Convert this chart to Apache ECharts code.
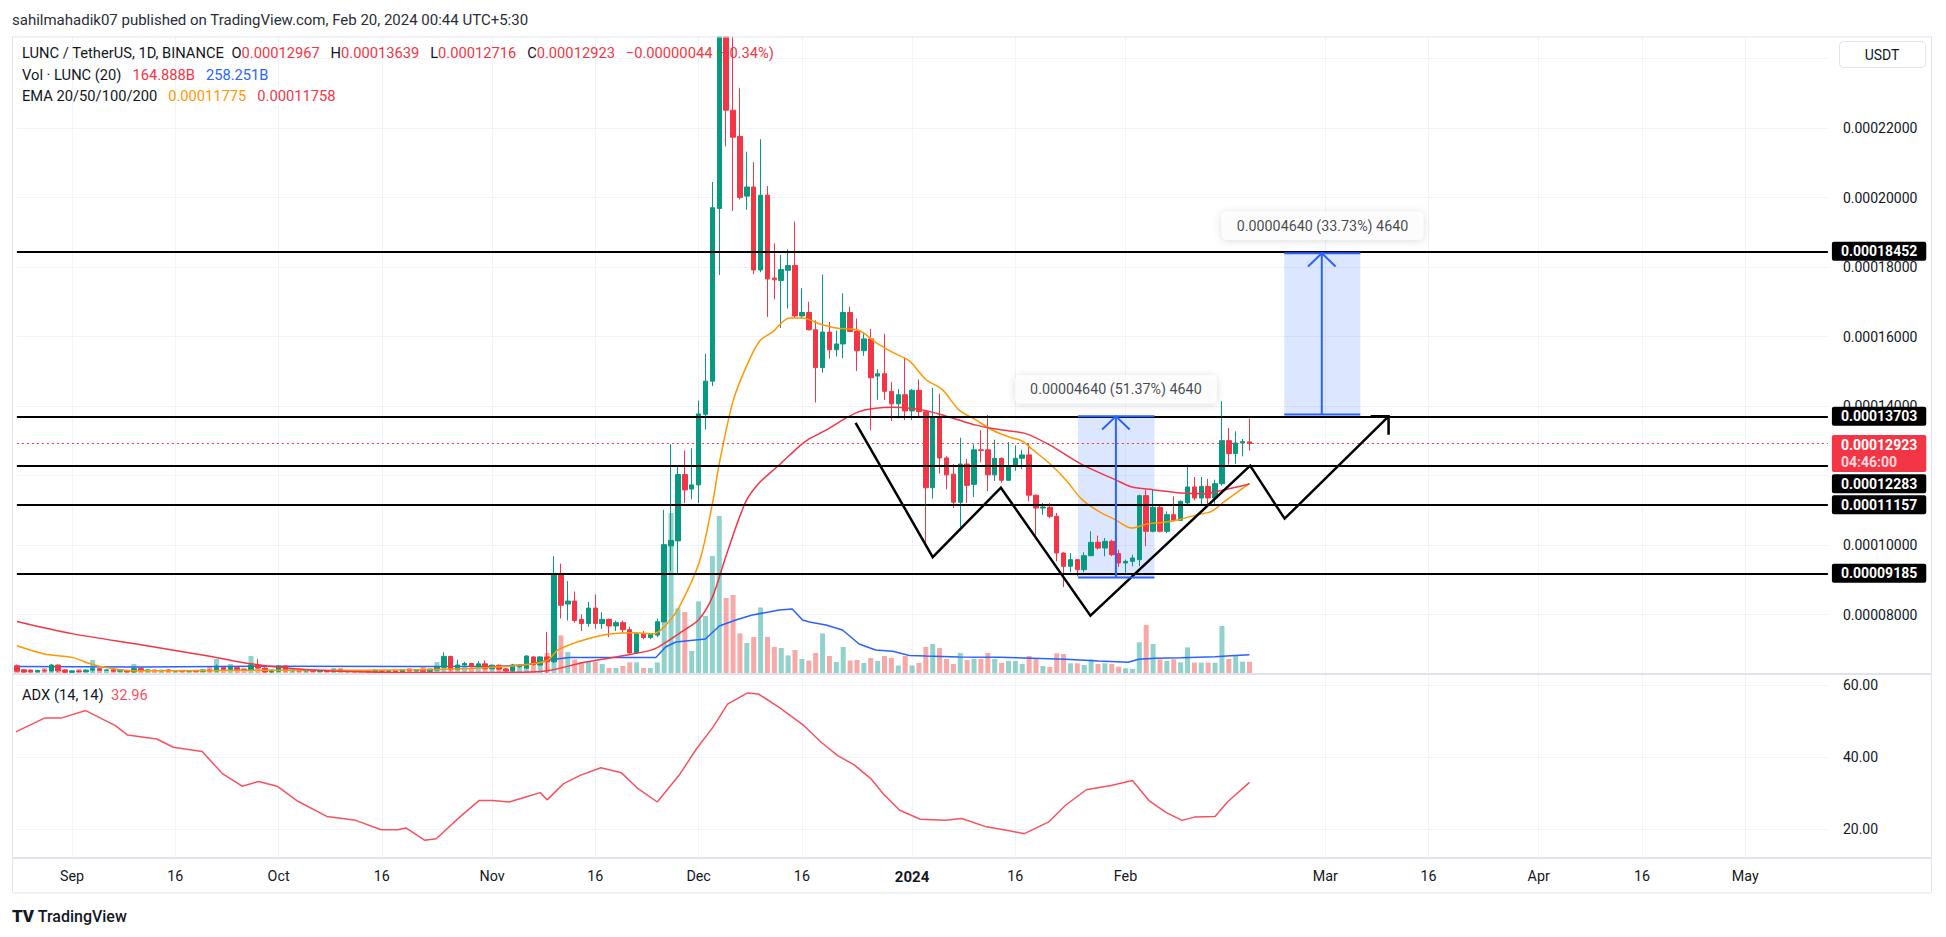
<!DOCTYPE html>
<html><head><meta charset="utf-8">
<script src="https://cdn.jsdelivr.net/npm/echarts@6/dist/echarts.min.js"></script>
<style>html,body{margin:0;padding:0;background:#fff}#c{width:1946px;height:937px}</style>
</head><body><div id="c"></div>
<script>
// ================= DATA (prices in units of 1e-8 USDT, day 0 = 2023-09-01) =================
const firstDayUTC = [2023, 7, 24];   // first category = Aug 24 2023 (day -8)
const categoryCount = 264;           // through May 13 2024
const tickDates = ['2023-09-01','2023-09-16','2023-10-01','2023-10-16','2023-11-01','2023-11-16','2023-12-01','2023-12-16','2024-01-01','2024-01-16','2024-02-01','2024-03-01','2024-03-16','2024-04-01','2024-04-16','2024-05-01'];
const tickLabels = ['Sep','16','Oct','16','Nov','16','Dec','16','2024','16','Feb','Mar','16','Apr','16','May'];
const priceTicks = {min: 6000, max: 24000, step: 2000};

// [open, high, low, close] daily, Aug 24 2023 .. Feb 19 2024
const ohlc = [
[6526,6560,6345,6370],[6410,6430,6335,6345],[6400,6420,6335,6350],[6350,6410,6340,6390],[6390,6430,6360,6375],[6375,6580,6360,6546],[6546,6560,6350,6380],[6400,6420,6330,6340],
[6340,6390,6320,6375],[6375,6400,6340,6355],[6355,6420,6340,6400],[6400,6470,6360,6440],[6440,6450,6380,6395],[6395,6420,6370,6405],[6405,6420,6360,6370],[6370,6400,6350,6385],[6385,6395,6340,6350],[6350,6470,6330,6440],
[6440,6460,6360,6380],[6380,6410,6360,6400],[6400,6410,6370,6385],[6385,6400,6360,6395],[6395,6420,6370,6375],[6375,6390,6350,6380],[6380,6395,6360,6370],[6370,6390,6355,6385],[6385,6400,6360,6365],[6365,6410,6350,6400],
[6400,6430,6360,6375],[6375,6560,6360,6470],[6470,6480,6390,6420],[6420,6520,6400,6470],[6470,6480,6400,6420],[6420,6440,6380,6400],[6400,6570,6380,6546],[6546,6718,6440,6460],[6460,6480,6330,6350],[6350,6390,6330,6370],
[6370,6540,6350,6520],[6520,6540,6360,6380],[6380,6410,6360,6395],[6395,6410,6365,6375],[6375,6395,6360,6390],[6390,6400,6355,6365],[6365,6385,6345,6375],[6375,6390,6350,6360],[6360,6420,6340,6405],[6405,6420,6350,6360],
[6360,6385,6345,6378],[6378,6390,6350,6360],[6360,6380,6345,6372],[6372,6385,6340,6350],[6350,6395,6340,6388],[6388,6400,6355,6365],[6365,6380,6345,6370],[6370,6385,6345,6355],[6355,6400,6345,6392],[6392,6430,6370,6380],
[6380,6420,6365,6410],[6410,6440,6350,6365],[6365,6420,6355,6400],[6400,6520,6380,6480],[6480,6910,6460,6795],[6795,6810,6380,6420],[6420,6700,6400,6546],[6546,6640,6500,6590],[6590,6610,6480,6500],[6500,6660,6480,6580],
[6580,6680,6420,6440],[6440,6560,6420,6540],[6540,6560,6400,6430],[6430,6450,6340,6380],[6380,6580,6354,6547],[6500,6560,6470,6520],[6457,6830,6440,6805],[6779,6800,6530,6547],[6547,6800,6530,6779],[6779,7500,6320,6640],
[6640,9676,6600,9139],[9139,9461,7885,8267],[8303,8960,7826,8387],[8387,8661,7766,7826],[7861,8004,7527,7742],[7742,8363,7646,8184],[8184,8578,7587,7742],[7742,8064,7587,7861],[7861,7880,7348,7670],[7670,7826,7527,7766],
[7766,7826,7467,7563],[7563,7646,6870,6894],[6894,7467,6870,7443],[7431,7527,7288,7336],[7336,7467,7288,7431],[7407,7885,7348,7790],[7790,11013,7766,10010],[9975,12900,9258,10130],[10118,12303,9175,12028],[12028,12721,11204,11586],
[11610,12781,11312,11730],[11730,14154,11204,13772],[13760,15503,13318,14715],[14715,20446,14572,19706],[19682,27000,17771,25500],[25500,26500,21473,22512],[22512,25000,19610,21736],[21759,23145,19944,20004],[20040,21318,19646,20303],[20303,21019,17795,17915],
[17915,21676,17850,20064],[20068,20331,16564,17654],[17683,18676,17070,17634],[17615,18345,16242,17926],[17907,18510,16807,18043],[18043,19309,16544,16593],[16593,17391,16515,16690],[16690,17002,16174,16194],[16194,16466,14101,15104],[15104,17780,14958,16126],
[16126,16418,15366,15619],[15619,16174,15425,15785],[15785,17245,15376,16690],[16690,16856,16125,16145],[16145,16515,15006,15590],[15590,16126,15444,15931],[15931,16223,13303,14812],[14860,15055,14179,14928],[14928,16077,14179,14422],[14422,14685,13565,14062],
[14062,14491,13643,14325],[14325,15396,13595,13858],[13858,14491,13595,14452],[14452,14763,13692,13838],[13838,13887,9974,11648],[11648,14520,11336,13692],[13692,14354,12057,12505],[12505,12554,11599,12018],[12038,12330,11064,11230],[11230,13089,10402,12330],
[12330,12476,11210,11716],[11745,12894,11385,12739],[12739,13303,12378,12720],[12739,13741,11551,12018],[12018,13030,11843,12495],[12495,12524,11794,11862],[11862,12962,11843,12261],[12261,12865,12135,12495],[12495,12739,12183,12593],[12593,12914,11259,11434],
[11434,11454,10285,11064],[11064,11210,10869,11093],[11083,11210,10772,10825],[10825,10921,9530,9770],[9770,9790,8792,9387],[9387,9770,9214,9578],[9578,9598,9099,9291],[9291,9790,9214,9693],[9693,10394,9674,10077],[10077,10269,9866,9914],
[9914,10202,9674,10106],[10106,10154,9674,9722],[9751,9866,9367,9483],[9483,9578,9195,9530],[9530,9722,9386,9626],[9578,11449,9386,11420],[11420,11593,9962,10394],[10394,11593,10365,11084],[11084,11161,10365,10394],[10394,10969,10346,10873],
[10873,11401,10682,10710],[10710,11280,10682,11257],[11210,12312,11161,11670],[11670,11957,11286,11353],[11353,11957,11161,11689],[11689,11900,11113,11353],[11353,11880,11190,11765],[11765,14135,11708,13003],[13003,13367,12312,12629],[12629,13271,12341,12936],
[12936,13051,12552,12974],[12967,13639,12716,12923]
];

// daily volume, billions of LUNC
const volumeB = [
68,54,41,54,81,95,68,68,
54,68,54,189,68,54,81,68,54,135,
95,68,54,54,68,54,54,41,54,68,
95,203,68,135,68,81,243,108,81,68,
95,81,68,68,54,68,54,41,81,81,
54,54,41,54,68,54,54,54,68,81,
68,95,81,162,230,203,122,95,81,95,
81,122,108,81,95,108,135,108,135,284,
1121,521,297,196,162,162,162,135,81,81,
108,157,157,81,81,157,1512,2174,886,837,
311,980,783,1593,2133,1026,1067,549,419,500,
898,500,365,351,251,324,203,182,284,548,
243,162,365,182,189,149,216,176,243,216,
115,243,115,149,365,405,351,203,135,284,
189,203,203,284,203,149,176,176,135,243,
216,108,95,279,270,144,144,122,198,135,
144,135,99,77,68,428,662,405,198,176,
198,158,360,153,153,153,153,648,203,243,
166,164.888
];

// [day, value]
const volumeMA = [[-8,100],[10,95],[30,105],[50,100],[62,105],[66,125],[69.8,196],[72.2,224],[84.8,224],[86.2,365],[87.7,432],[89.1,446],[92,473],[94,648],[96.4,729],[98.8,797],[101.2,837],[102.7,864],[104.6,878],[106.1,729],[107.1,702],[109.5,662],[111.9,594],[114.3,405],[116.7,324],[119.2,306],[121.6,251],[124,243],[128.8,230],[134.7,225],[139.5,212],[144.3,198],[149.1,176],[153.4,158],[154.9,198],[157.3,212],[161.1,220],[166,234],[168.3,247],[171,258.251]];

const ema20 = [[-8,7100],[-4,6862],[0,6766],[3,6560],[6,6440],[9,6380],[20,6390],[35,6395],[50,6410],[60,6470],[66,6560],[69,6676],[70.7,6998],[76.5,7384],[81.4,7474],[84.5,7448],[86.3,7705],[88.2,8221],[91.1,9508],[93,11181],[94,12339],[96,14140],[98,15170],[99.9,15878],[101.7,16125],[104.2,16535],[106.1,16535],[108.5,16369],[111,16243],[114.3,16174],[116.7,15834],[119.2,15542],[121.6,15298],[124,14763],[126.4,14471],[128.8,13887],[131.3,13595],[133.7,13303],[136.1,13108],[138,12991],[139.5,12744],[141.9,12360],[144.3,11881],[146.7,11305],[149.1,10969],[151.5,10729],[153.9,10490],[156.3,10614],[158.7,10653],[161.1,10749],[163.5,10873],[165.5,10969],[167.4,11257],[171,11775]];

const ema50 = [[-8,7800],[0,7450],[10,7130],[20,6800],[26,6580],[35,6400],[45,6340],[55,6330],[65,6340],[69,6380],[74.6,6631],[80,6810],[84.3,6990],[86,7170],[88.5,7500],[91,7850],[93,8500],[95,9700],[97.8,11228],[99.7,11765],[102.7,12303],[105.7,12854],[107.1,13059],[109.5,13303],[111.9,13595],[114.3,13838],[116.7,13935],[119.2,13965],[121.6,13935],[124,13867],[126.4,13741],[128.8,13595],[131.3,13449],[133.7,13352],[136.1,13283],[138.5,13205],[141.9,12888],[146.7,12312],[151.5,11881],[153.9,11670],[157,11593],[161.1,11497],[164.5,11478],[167.4,11593],[171,11758]];

const adx = [[-8.8,46.4],[-4,50.8],[-1.6,50.8],[2,52.9],[6.3,48.7],[8.1,46.1],[12.3,45],[14.7,42.7],[18.9,41.5],[21.9,35.3],[24.7,31.9],[27.1,33.2],[29.8,31.9],[32.8,27.7],[37,23.5],[41.2,22.4],[44.9,19.8],[47.3,19.8],[48.5,20.3],[51.2,16.9],[52.9,17.3],[56.3,23.3],[59.1,27.9],[61.1,27.9],[63.5,27.5],[65.9,28.9],[68,30.1],[69,28.1],[71.4,32.6],[73.8,34.9],[76.8,37],[79.8,35.6],[82.2,31.2],[85,27.5],[88.3,35.3],[90.7,42.3],[93.1,48.3],[95.2,54.7],[98.1,57.8],[99.7,57.5],[102.7,53.8],[106.3,48.7],[108.8,44.1],[111.2,40.4],[113.6,37.8],[116,34],[117.8,29.8],[120.2,25.2],[123.2,22.7],[126.8,22.4],[129.2,22.9],[132.8,20.6],[135.9,19.6],[138.3,18.7],[141.8,21.9],[144.3,26.6],[147.3,30.9],[150.9,32.1],[154,33.5],[156.4,27.9],[158.8,24.7],[161.2,22.4],[163,23.3],[166,23.5],[167.8,27.5],[171,32.96]];

// drawings
const levels = [18452, 13703, 12283, 11157, 9185];
const lastPrice = 12923;
const countdown = '04:46:00';
const wPattern = [[113.8,13517],[125,9652],[134.9,11648],[147.9,7967],[171.1,12283],[176.1,10758],[191.2,13703]];
const wArrowHead = [[188.6,13703],[191.2,13703],[191.2,13175]];
const measures = [
  {x0:146.1, x1:157.2, xm:151.6, lo:9063, hi:13703, text:'0.00004640 (51.37%) 4640', at:[151.6,14480]},
  {x0:176.05, x1:187.1, xm:181.5, lo:13756, hi:18396, text:'0.00004640 (33.73%) 4640', at:[181.6,19190]}
];

// ================= CHART =================
const FONT = 'Roboto, "Noto Sans", sans-serif';
const TXT = '#131722', GRID = '#f0f3fa', UP = '#089981', DOWN = '#f23645';
const LEG = 14.7;
const cats = [];
const t0 = Date.UTC(firstDayUTC[0], firstDayUTC[1], firstDayUTC[2]);
for (let i = 0; i < categoryCount; i++) cats.push(new Date(t0 + i * 86400000).toISOString().slice(0, 10));
const tickSet = new Set(tickDates);
const labelOf = {}; tickDates.forEach((d, i) => labelOf[d] = tickLabels[i]);
const tickInterval = (i, v) => tickSet.has(v);
const dayMin = -8, dayMax = dayMin + categoryCount - 1;
const fmtP = v => (v / 1e8).toFixed(8);

const candleData = ohlc.map(([o, h, l, c]) => [o, c, l, h]);
const volData = volumeB.map((v, i) => ({value: v, itemStyle: {color: ohlc[i][3] >= ohlc[i][0] ? 'rgba(38,166,154,0.5)' : 'rgba(239,83,80,0.5)'}}));

const blueSegs = [];
measures.forEach(m => {
  blueSegs.push({coords: [[m.x0, m.hi], [m.x1, m.hi]]});
  blueSegs.push({coords: [[m.x0, m.lo], [m.x1, m.lo]]});
  blueSegs.push({coords: [[m.xm, m.lo], [m.xm, m.hi]]});
  blueSegs.push({coords: [[m.xm - 2, m.hi - 380], [m.xm, m.hi], [m.xm + 2, m.hi - 380]]});
});

const L = 16.9, W = 1811;
const chart = echarts.init(document.getElementById('c'), null, {renderer: 'svg', width: 1946, height: 937});
const lvlLabel = (dy) => ({show: true, position: 'end', distance: 4, offset: [0, dy], formatter: p => fmtP(p.value), color: '#fff', backgroundColor: '#000', fontWeight: 'bold', fontSize: 14, fontFamily: FONT, padding: [3, 9, 2, 9], borderRadius: 2});
const rs = (c) => ({color: c, fontSize: LEG, fontFamily: FONT});
const legendStyle = (rich) => ({fontSize: LEG, fontWeight: 'normal', color: TXT, fontFamily: FONT, lineHeight: 18, rich: Object.assign({d: rs(TXT)}, rich)});
const S3 = '   ';

chart.setOption({
  animation: false,
  backgroundColor: '#fff',
  textStyle: {fontFamily: FONT},
  title: [
    {text: 'sahilmahadik07 published on TradingView.com, Feb 20, 2024 00:44 UTC+5:30', left: 12, top: 10, padding: 0, z: 102,
     textStyle: {fontSize: 15, fontWeight: 'normal', color: '#2a2e39', fontFamily: FONT, lineHeight: 20}},
    {text: '{d|LUNC / TetherUS, 1D, BINANCE}  {d|O}{r|0.00012967}' + S3 + '{d|H}{r|0.00013639}' + S3 + '{d|L}{r|0.00012716}' + S3 + '{d|C}{r|0.00012923}' + S3 + '{r|−0.00000044 (−0.34%)}',
     left: 22, top: 44, padding: 0, z: 1, textStyle: legendStyle({r: rs(DOWN)})},
    {text: '{d|Vol · LUNC (20)}' + S3 + '{r|164.888B}' + S3 + '{b|258.251B}', left: 22, top: 66, padding: 0, z: 1,
     textStyle: legendStyle({r: rs(DOWN), b: rs('#2962ff')})},
    {text: '{d|EMA 20/50/100/200}' + S3 + '{o|0.00011775}' + S3 + '{r|0.00011758}', left: 22, top: 87, padding: 0, z: 1,
     textStyle: legendStyle({o: rs('#ff9800'), r: rs(DOWN)})},
    {text: '{d|ADX (14, 14)}  {r|32.96}', left: 22, top: 686, padding: 0, z: 1,
     textStyle: legendStyle({r: rs('#f7525f')})},
    {text: '{i|TV}{t| TradingView}', left: 12, top: 906, padding: 0, z: 102,
     textStyle: {fontSize: 16, color: TXT, fontFamily: FONT, lineHeight: 20,
       rich: {i: {fontSize: 17, fontWeight: 900, color: TXT, fontFamily: FONT}, t: {fontSize: 16, fontWeight: 500, color: TXT, fontFamily: FONT}}}}
  ],
  grid: [
    {left: L, width: W, top: 58.5, height: 625.5},
    {left: L, width: W, top: 37, height: 637},
    {left: L, width: W, top: 685, height: 216},
    {left: L, width: W, top: 674, height: 184}
  ],
  xAxis: [
    {type: 'category', gridIndex: 0, data: cats, boundaryGap: false, show: false},
    {type: 'value', gridIndex: 0, min: dayMin, max: dayMax, show: false},
    {type: 'category', gridIndex: 1, data: cats, boundaryGap: false, axisLine: {show: false}, axisTick: {show: false}, axisLabel: {show: false},
     splitLine: {show: true, interval: tickInterval, lineStyle: {color: GRID, width: 1}}},
    {type: 'value', gridIndex: 1, min: dayMin, max: dayMax, show: false},
    {type: 'value', gridIndex: 2, min: dayMin, max: dayMax, show: false},
    {type: 'category', gridIndex: 3, data: cats, boundaryGap: false, axisLine: {show: false}, axisTick: {show: false},
     axisLabel: {interval: tickInterval, margin: 11, color: TXT, fontSize: 14.3, fontFamily: FONT,
       formatter: v => labelOf[v] === '2024' ? '{b|2024}' : (labelOf[v] || ''),
       rich: {b: {fontWeight: 'bold', fontSize: 15, color: TXT, fontFamily: FONT}}},
     splitLine: {show: true, interval: tickInterval, lineStyle: {color: GRID, width: 1}}}
  ],
  yAxis: [
    {type: 'value', gridIndex: 0, position: 'right', min: priceTicks.min, max: priceTicks.max, interval: priceTicks.step,
     axisLine: {show: false}, axisTick: {show: false},
     axisLabel: {margin: 15, color: TXT, fontSize: 14, fontFamily: FONT, formatter: v => (v <= 6000 || v >= 24000 || v === 12000) ? '' : fmtP(v)},
     splitLine: {lineStyle: {color: GRID}, showMinLine: false}},
    {type: 'value', gridIndex: 1, min: 0, max: 8600, show: false},
    {type: 'value', gridIndex: 2, position: 'right', min: 0, max: 60, interval: 20,
     axisLine: {show: false}, axisTick: {show: false},
     axisLabel: {margin: 15, color: TXT, fontSize: 14, fontFamily: FONT, formatter: v => v === 0 ? '' : v.toFixed(2)},
     splitLine: {lineStyle: {color: GRID}, showMinLine: false}},
    {type: 'value', gridIndex: 3, show: false}
  ],
  series: [
    {type: 'bar', name: 'Vol', xAxisIndex: 2, yAxisIndex: 1, data: volData, barWidth: 5, z: 1, silent: true},
    {type: 'line', name: 'VolMA', xAxisIndex: 3, yAxisIndex: 1, data: volumeMA, symbol: 'none', z: 2, silent: true,
     lineStyle: {color: '#2962ff', width: 1.5}},
    {type: 'line', name: 'measureArea', xAxisIndex: 1, yAxisIndex: 0, data: [], z: 2, silent: true,
     markArea: {silent: true, itemStyle: {color: 'rgba(41,98,255,0.16)'},
       data: measures.map(m => [{coord: [m.x0, m.lo]}, {coord: [m.x1, m.hi]}])}},
    {type: 'candlestick', name: 'LUNC', xAxisIndex: 0, yAxisIndex: 0, data: candleData, barWidth: 5, z: 3, silent: true, clip: false,
     itemStyle: {color: UP, color0: DOWN, borderColor: UP, borderColor0: DOWN, borderWidth: 1},
     markLine: {silent: true, symbol: ['none', 'none'], animation: false,
       data: levels.map(v => ({yAxis: v, lineStyle: {color: '#000', width: 2, type: 'solid'}, label: lvlLabel(v === 12283 ? 18 : 0)}))
         .concat([{yAxis: lastPrice, lineStyle: {color: DOWN, width: 1, type: [2, 3]},
           label: {show: true, position: 'end', distance: 4, offset: [0, 10],
             formatter: p => '{a|' + fmtP(p.value) + '}\n{b|' + countdown + '}',
             backgroundColor: DOWN, padding: [2, 9, 1, 9], borderRadius: 2,
             rich: {a: {color: '#fff', fontWeight: 'bold', fontSize: 14, lineHeight: 17, fontFamily: FONT},
                    b: {color: 'rgba(255,255,255,0.82)', fontWeight: 'bold', fontSize: 14, lineHeight: 17, fontFamily: FONT}}}}])}},
    {type: 'line', name: 'EMA20', xAxisIndex: 1, yAxisIndex: 0, data: ema20, symbol: 'none', smooth: 0.3, z: 4, silent: true,
     lineStyle: {color: '#ff9800', width: 1.5}},
    {type: 'line', name: 'EMA50', xAxisIndex: 1, yAxisIndex: 0, data: ema50, symbol: 'none', smooth: 0.3, z: 4, silent: true,
     lineStyle: {color: '#f23645', width: 1.5}},
    {type: 'lines', name: 'pattern', coordinateSystem: 'cartesian2d', xAxisIndex: 1, yAxisIndex: 0, polyline: true, z: 6, silent: true,
     lineStyle: {color: '#000', width: 2.5, opacity: 1}, data: [{coords: wPattern}, {coords: wArrowHead}]},
    {type: 'lines', name: 'measure', coordinateSystem: 'cartesian2d', xAxisIndex: 1, yAxisIndex: 0, polyline: true, z: 6, silent: true,
     lineStyle: {color: '#2962ff', width: 2, opacity: 1}, data: blueSegs},
    {type: 'scatter', name: 'measureText', xAxisIndex: 1, yAxisIndex: 0, symbolSize: 1, z: 7, silent: true,
     itemStyle: {color: 'rgba(0,0,0,0)'},
     data: measures.map(m => ({name: m.text, value: m.at})),
     label: {show: true, position: 'inside', formatter: p => p.name, color: TXT, fontSize: 14.3, fontFamily: FONT,
       backgroundColor: '#fff', borderRadius: 5, padding: [7, 15, 7, 15], shadowBlur: 8, shadowColor: 'rgba(0,0,0,0.18)', shadowOffsetY: 1}},
    {type: 'line', name: 'ADX', xAxisIndex: 4, yAxisIndex: 2, data: adx, symbol: 'none', z: 3, silent: true,
     lineStyle: {color: '#f7525f', width: 1.5}}
  ],
  graphic: [
    {type: 'rect', z: 100, silent: true, shape: {x: 0, y: 0, width: 1946, height: 36.5}, style: {fill: '#fff'}},
    {type: 'rect', z: 100, silent: true, shape: {x: 0, y: 894, width: 1946, height: 12}, style: {fill: '#fff'}},
    {type: 'rect', z: 101, silent: true, shape: {x: 12.5, y: 37, width: 1919, height: 856}, style: {fill: 'none', stroke: '#e0e3eb', lineWidth: 1}},
    {type: 'line', z: 101, silent: true, shape: {x1: 12.5, y1: 674, x2: 1931.5, y2: 674}, style: {stroke: '#e0e3eb', lineWidth: 2}},
    {type: 'line', z: 101, silent: true, shape: {x1: 12.5, y1: 858, x2: 1931.5, y2: 858}, style: {stroke: '#e0e3eb', lineWidth: 2}},
    {type: 'rect', z: 101, silent: true, shape: {x: 1839.5, y: 41.5, width: 86, height: 26, r: 4}, style: {fill: '#fff', stroke: '#e0e3eb', lineWidth: 1}},
    {type: 'text', z: 102, silent: true, style: {text: 'USDT', x: 1882, y: 54.5, align: 'center', verticalAlign: 'middle', fill: TXT, font: '14px Roboto'}}
  ]
});
</script>
</body></html>
